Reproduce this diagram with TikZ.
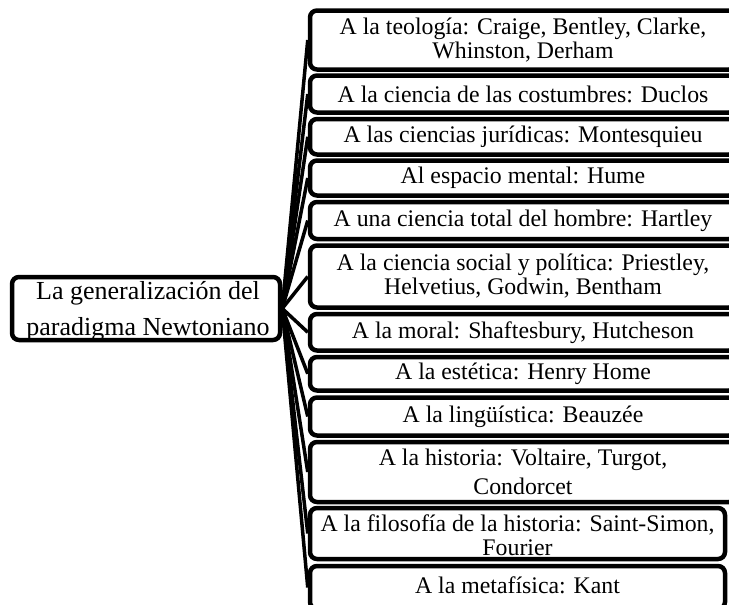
\documentclass[tikz,border=0pt]{standalone}
\usepackage{fontspec}
\setmainfont{Liberation Serif}
\begin{document}
\begin{tikzpicture}[x=1pt,y=-1pt,
  bx/.style={draw, line width=4.5pt, rounded corners=7pt, inner sep=0pt},
  lbl/.style={align=center, font=\fontsize{23.8}{24}\selectfont, inner sep=0pt},
  conn/.style={line width=3.5pt}]
\useasboundingbox (0,0) rectangle (729,605);
% texts
\node[lbl, font=\fontsize{26}{36}\selectfont] (tl) at (148,311) {La generalización del\\paradigma Newtoniano};
\node[lbl] (t1) at (523,40) {A la teología: Craige, Bentley, Clarke,\\Whinston, Derham};
\node[lbl] (t2) at (523,94) {A la ciencia de las costumbres: Duclos};
\node[lbl] (t3) at (523,136.75) {A las ciencias jurídicas: Montesquieu};
\node[lbl] (t4) at (523,178) {Al espacio mental: Hume};
\node[lbl] (t5) at (523,220.5) {A una ciencia total del hombre: Hartley};
\node[lbl] (t6) at (523,276.5) {A la ciencia social y política: Priestley,\\Helvetius, Godwin, Bentham};
\node[lbl] (t7) at (523,332.25) {A la moral: Shaftesbury, Hutcheson};
\node[lbl] (t8) at (523,373.75) {A la estética: Henry Home};
\node[lbl] (t9) at (523,416.5) {A la lingüística: Beauzée};
\node[lbl, font=\fontsize{23.8}{29}\selectfont] (t10) at (523,472) {A la historia: Voltaire, Turgot,\\Condorcet};
\node[lbl] (t11) at (517.5,535) {A la filosofía de la historia: Saint-Simon,\\Fourier};
\node[lbl, anchor=base] (t12) at (517.5,593) {A la metafísica: Kant};
% boxes
\node[bx, minimum width=268pt, minimum height=63pt] (root) at (146,308.5) {};
\node[bx, minimum width=426pt, minimum height=59pt] (b1) at (523,40) {};
\node[bx, minimum width=426pt, minimum height=37pt] (b2) at (523,94) {};
\node[bx, minimum width=426pt, minimum height=35.5pt] (b3) at (523,136.75) {};
\node[bx, minimum width=426pt, minimum height=35pt] (b4) at (523,178) {};
\node[bx, minimum width=426pt, minimum height=37pt] (b5) at (523,220.5) {};
\node[bx, minimum width=426pt, minimum height=62pt] (b6) at (523,276.5) {};
\node[bx, minimum width=426pt, minimum height=36.5pt] (b7) at (523,332.25) {};
\node[bx, minimum width=426pt, minimum height=33.5pt] (b8) at (523,373.75) {};
\node[bx, minimum width=426pt, minimum height=38pt] (b9) at (523,416.5) {};
\node[bx, minimum width=426pt, minimum height=60pt] (b10) at (523,472) {};
\node[bx, minimum width=415pt, minimum height=51pt] (b11) at (517.5,533.5) {};
\node[bx, minimum width=415pt, minimum height=43pt] (b12) at (517.5,587.5) {};
% connectors
\foreach \i in {1,...,12} {
  \draw[conn] (root.east) -- (b\i.west);
}
\end{tikzpicture}
\end{document}
